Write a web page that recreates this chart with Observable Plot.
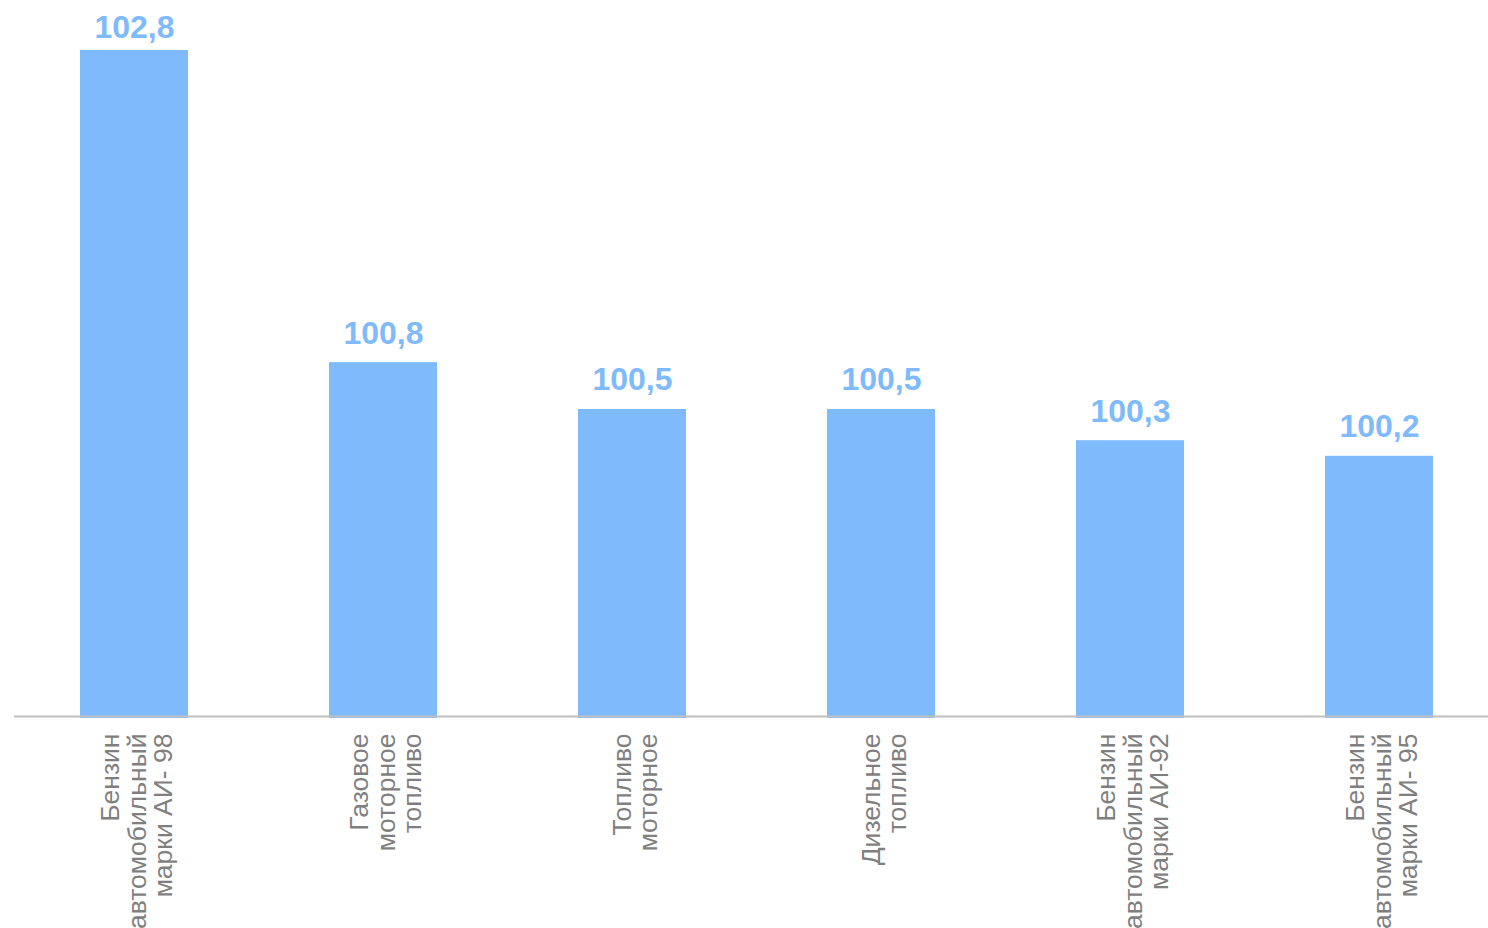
<!DOCTYPE html>
<html>
<head>
<meta charset="utf-8">
<script src="https://cdn.jsdelivr.net/npm/d3@7"></script>
<script src="https://cdn.jsdelivr.net/npm/@observablehq/plot@0.6"></script>
<style>
  html, body { margin: 0; padding: 0; background: #fff; }
  #chart svg { display: block; }
</style>
</head>
<body>
<div id="chart"></div>
<script>
const categories = [
  "Бензин\nавтомобильный\nмарки АИ- 98",
  "Газовое\nмоторное\nтопливо",
  "Топливо\nмоторное",
  "Дизельное\nтопливо",
  "Бензин\nавтомобильный\nмарки АИ-92",
  "Бензин\nавтомобильный\nмарки АИ- 95"
];
const values = [102.8, 100.8, 100.5, 100.5, 100.3, 100.2];
const yMin = 98.52;

const data = categories.map((c, i) => ({ name: c, value: values[i] }));
const barColor = "#7fbbfc";
const fmt = v => v.toFixed(1).replace(".", ",");
const maxV = d3.max(values);

const chart = Plot.plot({
  width: 1488,
  height: 928,
  marginTop: 50,
  marginBottom: 210,
  marginLeft: 14,
  marginRight: 0,
  style: { fontFamily: "'Liberation Sans', Arial, sans-serif", background: "#fff" },
  x: { type: "band", domain: categories, range: [8.4, 1503.6], paddingInner: 0.567, paddingOuter: 0.2835, axis: null },
  y: { domain: [yMin, maxV], axis: null },
  marks: [
    Plot.barY(data, { x: "name", y1: yMin, y2: "value", fill: barColor }),
    Plot.ruleY([yMin], { stroke: "#bfbfbf", strokeWidth: 2, dy: -2 }),
    Plot.text(data, {
      filter: d => d.value < maxV,
      x: "name", y: "value", text: d => fmt(d.value),
      dy: -19, lineAnchor: "bottom", fill: barColor,
      fontSize: 32, fontWeight: "bold"
    }),
    Plot.text(data, {
      filter: d => d.value === maxV,
      x: "name", y: "value", text: d => fmt(d.value),
      dy: -13, lineAnchor: "bottom", fill: barColor,
      fontSize: 32, fontWeight: "bold"
    }),
    Plot.text(data, {
      x: "name", y: yMin, text: "name",
      rotate: -90, textAnchor: "end", lineAnchor: "middle",
      dy: 15, dx: 3, fill: "#7f7f7f", fontSize: 26.5, lineHeight: 1.0
    })
  ]
});
document.getElementById("chart").appendChild(chart);
</script>
</body>
</html>
